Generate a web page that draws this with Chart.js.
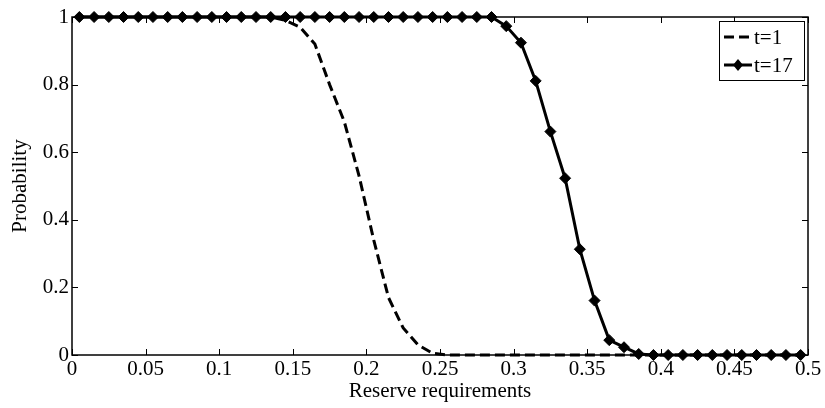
<!DOCTYPE html>
<html>
<head>
<meta charset="utf-8">
<script src="https://cdn.jsdelivr.net/npm/chart.js@4/dist/chart.umd.min.js"></script>
<style>
  html, body { margin: 0; padding: 0; background: #fff; }
  #wrap { width: 825px; height: 408px; }
</style>
</head>
<body>
<div id="wrap"><canvas id="lineChart" width="825" height="408"></canvas></div>
<script>
"use strict";

// reserve requirement levels (x)
const reserve = [
	0.005, 0.015, 0.025, 0.035, 0.045, 0.055, 0.065, 0.075, 0.085, 0.095,
	0.105, 0.115, 0.125, 0.135, 0.145, 0.155, 0.165, 0.175, 0.185, 0.195,
	0.205, 0.215, 0.225, 0.235, 0.245, 0.255, 0.265, 0.275, 0.285, 0.295,
	0.305, 0.315, 0.325, 0.335, 0.345, 0.355, 0.365, 0.375, 0.385, 0.395,
	0.405, 0.415, 0.425, 0.435, 0.445, 0.455, 0.465, 0.475, 0.485, 0.495,
];

const probT1 = [
	1, 1, 1, 1, 1, 1, 1, 1, 1, 1,
	1, 1, 1, 1, 0.99, 0.97, 0.92, 0.8, 0.69, 0.53,
	0.34, 0.17, 0.08, 0.03, 0.005, 0, 0, 0, 0, 0,
	0, 0, 0, 0, 0, 0, 0, 0, 0, 0,
	0, 0, 0, 0, 0, 0, 0, 0, 0, 0,
];

const probT17 = [
	1, 1, 1, 1, 1, 1, 1, 1, 1, 1,
	1, 1, 1, 1, 1, 1, 1, 1, 1, 1,
	1, 1, 1, 1, 1, 1, 1, 1, 1, 0.973,
	0.924, 0.811, 0.661, 0.523, 0.313, 0.161, 0.044, 0.023, 0.003, 0,
	0, 0, 0, 0, 0, 0, 0, 0, 0, 0,
];

const xTicks = [0, 0.05, 0.1, 0.15, 0.2, 0.25, 0.3, 0.35, 0.4, 0.45, 0.5];
const yTicks = [0, 0.2, 0.4, 0.6, 0.8, 1];

const FONT = "'Liberation Serif', 'Times New Roman', serif";

const toPoints = (ys) => reserve.map((x, i) => ({ x: x, y: ys[i] }));

// MATLAB-like frame with inward ticks, plus the legend box
const framePlugin = {
	id: "frame",
	afterDatasetsDraw(chart) {
		const { ctx, chartArea: a, scales } = chart;
		const tl = 6;
		ctx.save();
		ctx.strokeStyle = "#000";
		ctx.lineWidth = 1.5;
		ctx.strokeRect(a.left, a.top, a.right - a.left, a.bottom - a.top);
		ctx.lineWidth = 1;
		ctx.beginPath();
		xTicks.forEach((v) => {
			const px = Math.round(scales.x.getPixelForValue(v)) + 0.5;
			ctx.moveTo(px, a.bottom);
			ctx.lineTo(px, a.bottom - tl);
			ctx.moveTo(px, a.top);
			ctx.lineTo(px, a.top + tl);
		});
		yTicks.forEach((v) => {
			const py = Math.round(scales.y.getPixelForValue(v)) + 0.5;
			ctx.moveTo(a.left, py);
			ctx.lineTo(a.left + tl, py);
			ctx.moveTo(a.right, py);
			ctx.lineTo(a.right - tl, py);
		});
		ctx.stroke();

		// legend
		const bx = 719, by = 21, bw = 85, bh = 59;
		ctx.fillStyle = "#fff";
		ctx.fillRect(bx, by, bw, bh);
		ctx.lineWidth = 1;
		ctx.strokeRect(bx + 0.5, by + 0.5, bw, bh);
		ctx.font = "21px " + FONT;
		ctx.textBaseline = "middle";
		ctx.textAlign = "left";
		chart.data.datasets.forEach((ds, i) => {
			const yy = by + 16 + i * 28;
			ctx.strokeStyle = "#000";
			ctx.lineWidth = 3;
			ctx.setLineDash(ds.borderDash || []);
			ctx.beginPath();
			ctx.moveTo(bx + 5, yy);
			ctx.lineTo(bx + 33, yy);
			ctx.stroke();
			ctx.setLineDash([]);
			if (ds.pointRadius > 0) {
				ctx.fillStyle = "#000";
				ctx.beginPath();
				ctx.moveTo(bx + 19, yy - 6);
				ctx.lineTo(bx + 24, yy);
				ctx.lineTo(bx + 19, yy + 6);
				ctx.lineTo(bx + 14, yy);
				ctx.closePath();
				ctx.fill();
			}
			ctx.fillStyle = "#000";
			ctx.fillText(ds.label, bx + 35, yy + 1);
		});
		ctx.restore();
	},
};

new Chart(document.getElementById("lineChart"), {
	type: "line",
	data: {
		datasets: [
			{
				label: "t=1",
				data: toPoints(probT1),
				borderColor: "#000",
				borderWidth: 3,
				borderDash: [10, 5],
				pointRadius: 0,
				tension: 0,
			},
			{
				label: "t=17",
				data: toPoints(probT17),
				borderColor: "#000",
				backgroundColor: "#000",
				borderWidth: 3,
				pointStyle: "rectRot",
				pointRadius: 5.5,
				pointBorderWidth: 1,
				tension: 0,
			},
		],
	},
	options: {
		responsive: false,
		animation: false,
		clip: false,
		layout: {
			padding: { left: 0, right: 17, top: 17, bottom: 0 },
		},
		plugins: {
			legend: { display: false },
			tooltip: { enabled: false },
		},
		scales: {
			x: {
				type: "linear",
				min: 0,
				max: 0.5,
				afterBuildTicks: (scale) => {
					scale.ticks = xTicks.map((v) => ({ value: v }));
				},
				afterFit: (scale) => {
					scale.height = 53;
				},
				grid: { display: false, drawTicks: false },
				border: { display: false },
				ticks: {
					color: "#000",
					padding: 2,
					maxRotation: 0,
					autoSkip: false,
					font: { family: FONT, size: 21 },
					callback: (value) => String(value),
				},
				title: {
					display: true,
					text: "Reserve requirements",
					color: "#000",
					padding: { top: 0, bottom: 6 },
					font: { family: FONT, size: 21, lineHeight: 1 },
				},
			},
			y: {
				min: 0,
				max: 1,
				afterBuildTicks: (scale) => {
					scale.ticks = yTicks.map((v) => ({ value: v }));
				},
				afterFit: (scale) => {
					scale.width = 72;
				},
				grid: { display: false, drawTicks: false },
				border: { display: false },
				ticks: {
					color: "#000",
					padding: 3,
					autoSkip: false,
					font: { family: FONT, size: 21 },
					callback: (value) => String(value),
				},
				title: {
					display: true,
					text: "Probability",
					color: "#000",
					padding: { top: 10, bottom: 0 },
					font: { family: FONT, size: 21, lineHeight: 1 },
				},
			},
		},
	},
	plugins: [framePlugin],
});
</script>
</body>
</html>
